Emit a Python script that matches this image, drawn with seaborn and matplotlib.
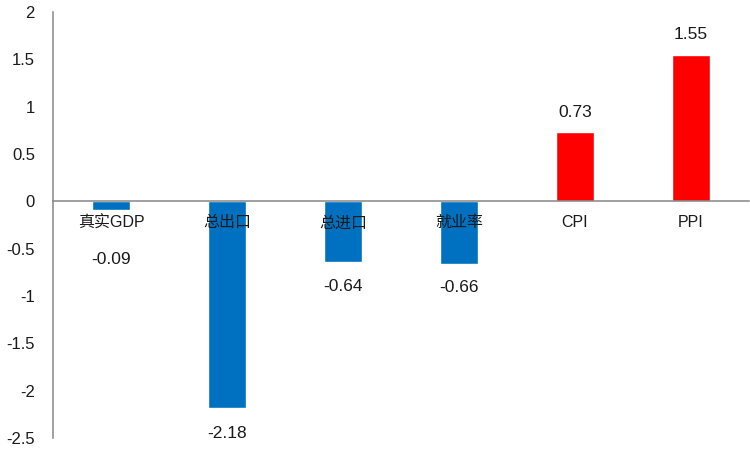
import numpy as np, matplotlib, matplotlib.pyplot as plt
import seaborn as sns
matplotlib.use('Agg')

CATEGORIES = ['真实GDP', '总出口', '总进口', '就业率', 'CPI', 'PPI']
VALUES     = [-0.09, -2.18, -0.64, -0.66, 0.73, 1.55]
COLORS     = ['#0070C0', '#0070C0', '#0070C0', '#0070C0', '#FF0000', '#FF0000']
Y_TICKS    = [-2.5, -2, -1.5, -1, -0.5, 0, 0.5, 1, 1.5, 2]
LABEL_PAD  = [30, 13, 12, 12, 9, 9]   # value label offset (pt) per bar

sns.set_style('white')
plt.rcParams['font.family'] = ['Liberation Sans', 'Noto Sans CJK SC', 'DejaVu Sans']
GREY = '#868686'
TXT  = '#1a1a1a'

fig = plt.figure(figsize=(7.5, 4.5), dpi=100)
ax  = fig.add_axes([0.0707, 0.0267, 0.928, 0.9466])

sns.barplot(x=CATEGORIES, y=VALUES, hue=CATEGORIES, palette=COLORS,
            legend=False, width=0.33, saturation=1, ax=ax)
ax.set_axisbelow(False)   # category labels sit on top of the bars

# value labels
for i, cont in enumerate(ax.containers):
    ax.bar_label(cont, labels=[f'{VALUES[i]:.2f}'], padding=LABEL_PAD[i],
                 fontsize=12.5, color=TXT)

ax.set_ylim(-2.5, 2)
ax.set_xlim(-0.5, len(CATEGORIES) - 0.5)
ax.set_yticks(Y_TICKS)
ax.set_yticklabels([f'{t:g}' for t in Y_TICKS], fontsize=12, color=TXT)

# x axis sits on zero, ticks at category boundaries, labels at centres
ax.spines['bottom'].set_position(('data', 0))
for s in ['top', 'right']:
    ax.spines[s].set_visible(False)
for s in ['left', 'bottom']:
    ax.spines[s].set_color(GREY)
    ax.spines[s].set_linewidth(1.1)
    ax.spines[s].set_zorder(3)
ax.set_xticks(np.arange(-0.5, len(CATEGORIES)), labels=[''] * (len(CATEGORIES) + 1))
ax.set_xticks(range(len(CATEGORIES)), labels=CATEGORIES, minor=True)
ax.tick_params(axis='x', which='major', direction='in', length=4, width=1.1, color=GREY)
ax.tick_params(axis='x', which='minor', length=0, pad=10, labelsize=11.5, labelcolor=TXT)
ax.tick_params(axis='y', direction='in', length=4, width=1.1, color=GREY, pad=13)
ax.set_xlabel(''); ax.set_ylabel('')

plt.savefig('out.png', dpi=100)
plt.close()
